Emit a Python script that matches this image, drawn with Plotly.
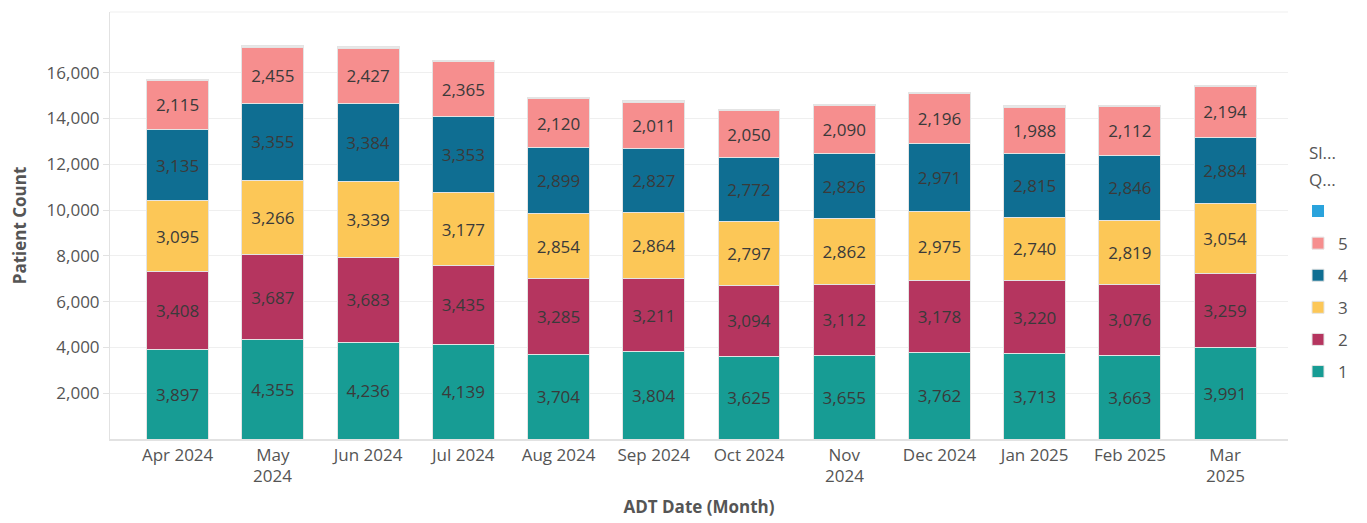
import plotly.graph_objects as go

months = ["Apr 2024", "May 2024", "Jun 2024", "Jul 2024", "Aug 2024", "Sep 2024",
          "Oct 2024", "Nov 2024", "Dec 2024", "Jan 2025", "Feb 2025", "Mar 2025"]
# tick text; months whose label wraps get their year as a second line below
month_labels = ["Apr 2024", "May", "Jun 2024", "Jul 2024", "Aug 2024", "Sep 2024",
                "Oct 2024", "Nov", "Dec 2024", "Jan 2025", "Feb 2025", "Mar"]
wrapped_years = {"May 2024": "2024", "Nov 2024": "2024", "Mar 2025": "2025"}

q1 = [3897, 4355, 4236, 4139, 3704, 3804, 3625, 3655, 3762, 3713, 3663, 3991]
q2 = [3408, 3687, 3683, 3435, 3285, 3211, 3094, 3112, 3178, 3220, 3076, 3259]
q3 = [3095, 3266, 3339, 3177, 2854, 2864, 2797, 2862, 2975, 2740, 2819, 3054]
q4 = [3135, 3355, 3384, 3353, 2899, 2827, 2772, 2826, 2971, 2815, 2846, 2884]
q5 = [2115, 2455, 2427, 2365, 2120, 2011, 2050, 2090, 2196, 1988, 2112, 2194]
blank = [70, 70, 70, 70, 70, 70, 70, 70, 70, 70, 70, 70]

series = [("1", q1, "#179C94"), ("2", q2, "#B5355F"), ("3", q3, "#FCC757"),
          ("4", q4, "#0F6E92"), ("5", q5, "#F68E8E")]

FONT = "Open Sans"
GREY = "#555555"
fig = go.Figure()
for i, (name, vals, col) in enumerate(series):
    fig.add_trace(go.Bar(
        x=months, y=vals, name=name, legendgroup=name, legendrank=10 - i,
        marker=dict(color=col, line=dict(color="#e4e4e4", width=1)),
        text=[f"{v:,}" for v in vals], texttemplate="%{text}",
        textposition="inside", insidetextanchor="middle",
        textfont=dict(family=FONT, size=17, color="#3a3a3a"),
        width=0.65,
    ))

# blank category: tiny cap at the top of each bar
fig.add_trace(go.Bar(
    x=months, y=blank, name=" ", showlegend=False, width=0.65,
    marker=dict(color="#e8e8e8", line=dict(color="#e4e4e4", width=1)),
    hoverinfo="skip",
))
fig.add_trace(go.Bar(
    x=[months[0]], y=[0], name=" ", legendgroup="blank", legendrank=1,
    marker=dict(color="#2AA3DC", line=dict(width=0)), width=0.65,
    hoverinfo="skip",
))

annos = [
    dict(text="Sl...", xref="paper", yref="paper", x=1.016, y=0.672,
         xanchor="left", yanchor="middle", showarrow=False,
         font=dict(family=FONT, size=17, color=GREY)),
    dict(text="Q...", xref="paper", yref="paper", x=1.016, y=0.607,
         xanchor="left", yanchor="middle", showarrow=False,
         font=dict(family=FONT, size=17, color=GREY)),
]
for m, yr in wrapped_years.items():
    annos.append(dict(text=yr, x=m, xref="x", y=0, yref="paper", yshift=-36,
                      xanchor="center", yanchor="middle", showarrow=False,
                      borderpad=0,
                      font=dict(family=FONT, size=17, color=GREY)))

fig.update_layout(
    barmode="stack",
    width=1359, height=515,
    margin=dict(l=102, r=79, t=4, b=84),
    plot_bgcolor="white", paper_bgcolor="white",
    font=dict(family=FONT, size=17, color=GREY),
    uniformtext=dict(minsize=17, mode="show"),
    showlegend=True,
    legend=dict(
        traceorder="grouped", tracegroupgap=7,
        x=1.0085, xanchor="left", y=0.575, yanchor="top",
        font=dict(family=FONT, size=17, color=GREY),
        itemclick=False,
    ),
    annotations=annos,
    xaxis=dict(
        title=dict(text="<b>ADT Date (Month)</b>", font=dict(family=FONT, size=17, color=GREY), standoff=36),
        tickmode="array", tickvals=months, ticktext=month_labels,
        range=[-0.71, 11.66], automargin=False,
        showline=True, linecolor="#e2e2e2", linewidth=2,
        showgrid=False, ticks="",
        tickfont=dict(family=FONT, size=17, color=GREY),
    ),
    yaxis=dict(
        title=dict(text="<b>Patient Count</b>", font=dict(family=FONT, size=17, color=GREY), standoff=26),
        range=[0, 18650], automargin=False,
        tickvals=[2000, 4000, 6000, 8000, 10000, 12000, 14000, 16000],
        tickformat=",d",
        showgrid=True, gridcolor="#efefef", gridwidth=1,
        showline=True, linecolor="#e2e2e2", linewidth=1,
        ticks="outside", ticklen=6, tickcolor="#e2e2e2",
        zeroline=False,
        tickfont=dict(family=FONT, size=17, color=GREY),
    ),
    shapes=[dict(type="line", xref="paper", yref="paper", x0=0, x1=1, y0=1, y1=1,
                 line=dict(color="#efefef", width=1))],
)

fig.write_html("out.html")
